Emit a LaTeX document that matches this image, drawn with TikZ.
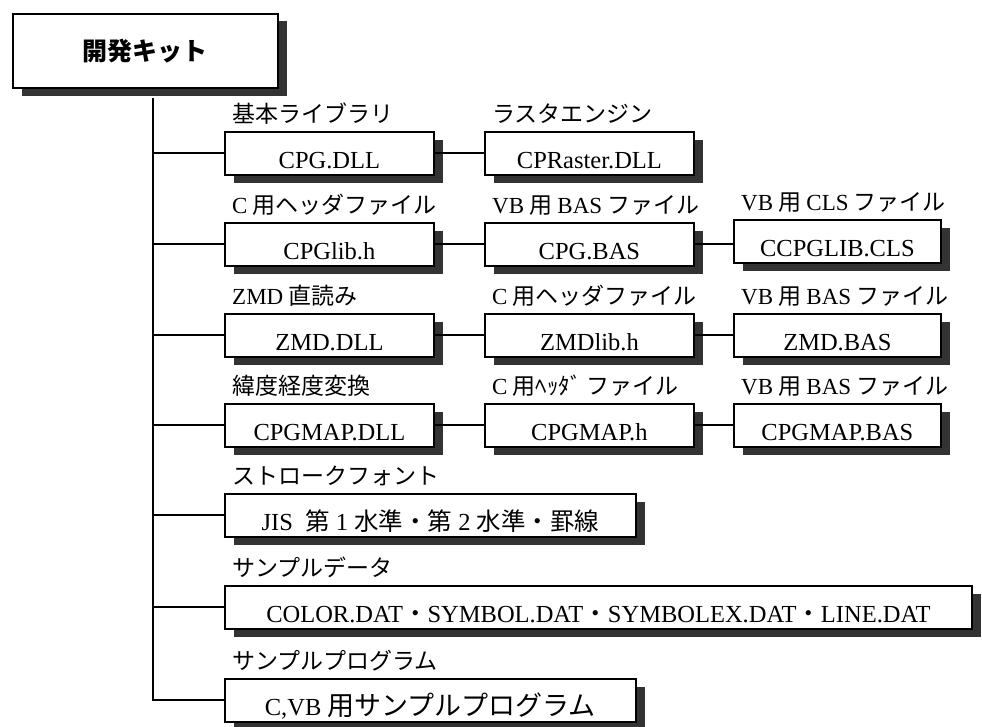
\documentclass[tikz,border=0pt]{standalone}
\usepackage{fontspec}
\setmainfont{Liberation Serif}
\newfontfamily\jp{Noto Sans CJK JP}
\usetikzlibrary{positioning,shadows}

\definecolor{shadowgray}{HTML}{333333}
\newcommand\lat[1]{{\rmfamily #1}}

\tikzset{
  filebox/.style={draw, fill=white, line width=1.8pt, anchor=north west,
    inner sep=0pt, minimum height=43pt, text height=31pt, text depth=0pt,
    font=\fontsize{24.5}{26}\selectfont,
    drop shadow={shadow xshift=9pt, shadow yshift=-8pt, fill=shadowgray, opacity=1}},
  kitbox/.style={filebox, minimum width=265pt, minimum height=74pt,
    text height=, text depth=, font=\jp\bfseries\fontsize{25}{26}\selectfont,
    drop shadow={shadow xshift=9pt, shadow yshift=-7pt, fill=shadowgray, opacity=1}},
  tag/.style={inner sep=0pt, text depth=0pt, font=\jp\fontsize{23}{24}\selectfont},
  link/.style={line width=2pt}
}

\begin{document}
\begin{tikzpicture}[x=1pt, y=-1pt]
  \useasboundingbox (0,0) rectangle (982,727);

  % filenode[name, x, y, width]{tag}{file}
  \def\filenode[#1, #2, #3, #4]#5#6{
    \node[filebox, minimum width=#4] (#1) at (#2,#3) {#6};
    \node[tag, above right=8pt and 8pt of #1.north west] (#1-tag) {#5};
  }

  \node[kitbox] (kit) at (12,13) {開発キット};

  \filenode[lib, 224, 131, 209]{基本ライブラリ}{CPG.DLL}
  \filenode[raster, 484, 131, 209]{ラスタエンジン}{CPRaster.DLL}

  \filenode[libh, 224, 222, 209]{\lat{C} 用ヘッダファイル}{CPGlib.h}
  \filenode[libbas, 484, 222, 209]{\lat{VB} 用 \lat{BAS} ファイル}{CPG.BAS}
  \filenode[libcls, 733, 219, 207]{\lat{VB} 用 \lat{CLS} ファイル}{CCPGLIB.CLS}

  \filenode[zmd, 224, 313, 209]{\lat{ZMD} 直読み}{ZMD.DLL}
  \filenode[zmdh, 484, 313, 209]{\lat{C} 用ヘッダファイル}{ZMDlib.h}
  \filenode[zmdbas, 733, 313, 207]{\lat{VB} 用 \lat{BAS} ファイル}{ZMD.BAS}

  \filenode[map, 224, 403, 209]{緯度経度変換}{CPGMAP.DLL}
  \filenode[maph, 484, 403, 209]{\lat{C} 用ﾍｯﾀﾞ ファイル}{CPGMAP.h}
  \filenode[mapbas, 733, 403, 207]{\lat{VB} 用 \lat{BAS} ファイル}{CPGMAP.BAS}

  \filenode[font, 224, 493, 411]{ストロークフォント}{JIS\ \ {\jp 第}~1~{\jp 水準・第}~2~{\jp 水準・罫線}}
  \filenode[data, 224, 585, 747]{サンプルデータ}{COLOR.DAT{\jp ・}SYMBOL.DAT{\jp ・}SYMBOLEX.DAT{\jp ・}LINE.DAT}
  \filenode[prog, 224, 678, 411]{サンプルプログラム}{C,VB {\jp\fontsize{27}{28}\selectfont 用サンプルプログラム}}

  % tree
  \coordinate (trunk) at (153,98);
  \draw[link] (trunk) |- (prog.west);
  \foreach \n in {lib, libh, zmd, map, font, data}
    \draw[link] (\n.west -| trunk) -- (\n.west);

  \draw[link] (lib.east) -- (lib.east -| raster.west);
  \draw[link] (libh.east) -- (libh.east -| libbas.west);
  \draw[link] (libbas.east) -- (libbas.east -| libcls.west);
  \draw[link] (zmd.east) -- (zmd.east -| zmdh.west);
  \draw[link] (zmdh.east) -- (zmdh.east -| zmdbas.west);
  \draw[link] (map.east) -- (map.east -| maph.west);
  \draw[link] (maph.east) -- (maph.east -| mapbas.west);

\end{tikzpicture}
\end{document}
